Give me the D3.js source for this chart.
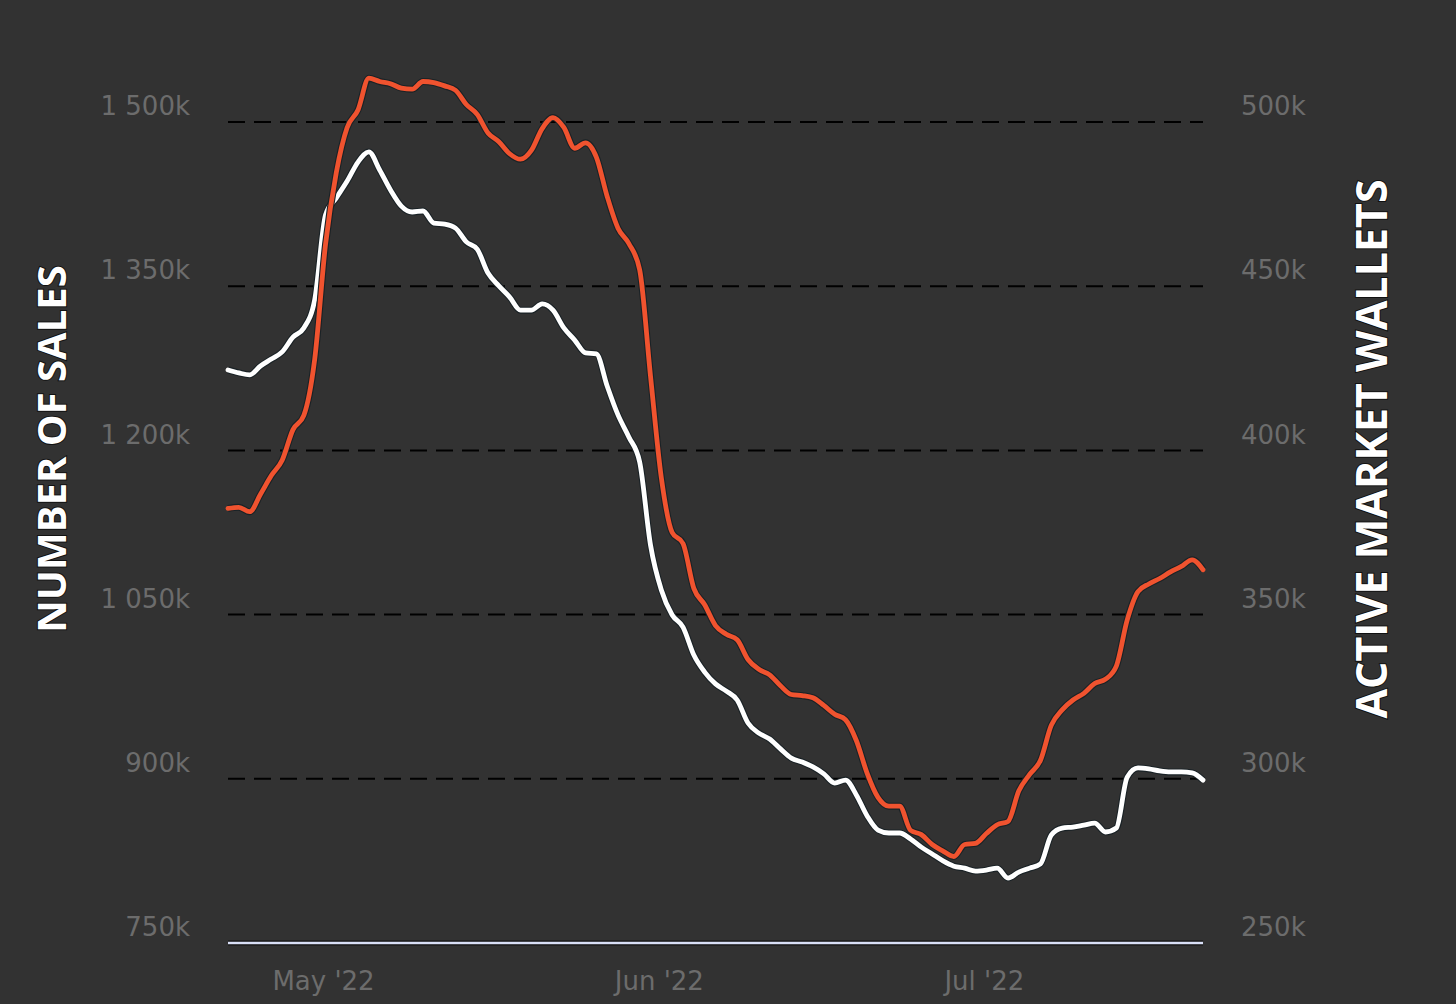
<!DOCTYPE html>
<html>
<head>
<meta charset="utf-8">
<script src="https://cdn.jsdelivr.net/npm/d3@7"></script>
<style>
  html, body { margin: 0; padding: 0; background: #323232; }
  svg { display: block; }
</style>
</head>
<body>
<svg id="chart"></svg>
<script>
// daily values, Apr 22 2022 -> Jul 21 2022 (thousands)
const startDate = new Date(2022, 3, 22);
const sales = [
  1147, 1148, 1144, 1160, 1177, 1191, 1219, 1232, 1283, 1388,
  1454, 1495, 1511, 1540, 1537, 1535, 1531, 1530, 1537, 1536,
  1533, 1529, 1516, 1507, 1490, 1482, 1471, 1466, 1474, 1494,
  1504, 1495, 1476, 1481, 1468, 1432, 1403, 1389, 1365, 1268,
  1175, 1125, 1115, 1074, 1059, 1040, 1032, 1027, 1009, 1000,
  995, 985, 977, 976, 974, 967, 959, 954, 935, 905,
  883, 875, 875, 853, 849, 840, 834, 829, 840, 841,
  850, 858, 861, 889, 904, 917, 949, 963, 972, 978,
  987, 991, 1003, 1045, 1071, 1078, 1083, 1089, 1094, 1100,
  1091
];
const wallets = [
  424.5, 423.6, 423.0, 425.7, 427.8, 430.0, 434.5, 437.3, 445.8, 471.7,
  476.9, 482.0, 487.8, 490.9, 485.4, 479.3, 474.4, 472.6, 472.9, 469.2,
  468.9, 467.7, 463.5, 461.3, 454.0, 450.1, 446.7, 442.7, 442.7, 444.6,
  442.7, 437.3, 433.6, 429.7, 429.4, 419.6, 410.8, 404.1, 396.5, 371.2,
  357.5, 349.9, 346.2, 337.7, 332.5, 328.9, 326.7, 324.0, 317.0, 313.9,
  312.1, 309.1, 306.3, 305.1, 303.6, 301.5, 298.7, 299.6, 295.1, 288.7,
  284.4, 283.5, 283.5, 281.7, 279.2, 277.1, 275.0, 273.4, 272.8, 271.9,
  272.2, 272.8, 269.8, 271.6, 272.8, 274.1, 282.9, 285.0, 285.3, 285.9,
  286.5, 283.8, 285.0, 300.5, 303.3, 303.0, 302.4, 302.1, 302.1, 301.8,
  299.6
];
const leftTicks = [750, 900, 1050, 1200, 1350, 1500];
const rightTicks = [250, 300, 350, 400, 450, 500];
const monthTicks = [new Date(2022, 4, 1), new Date(2022, 5, 1), new Date(2022, 6, 1)];
const monthLabels = ["May '22", "Jun '22", "Jul '22"];
const leftTitle = "NUMBER OF SALES";
const rightTitle = "ACTIVE MARKET WALLETS";

const width = 1456;
const height = 1004;
const plot = { left: 228, right: 1203, top: 122, bottom: 943 };

const dates = sales.map((d, i) => d3.timeDay.offset(startDate, i));

const svg = d3.select("#chart").attr("width", width).attr("height", height);
svg.append("rect").attr("width", width).attr("height", height).attr("fill", "#323232");

const x = d3.scaleTime()
  .domain([dates[0], dates[dates.length - 1]])
  .range([plot.left, plot.right]);
const yLeft = d3.scaleLinear().domain([750, 1500]).range([plot.bottom, plot.top]);
const yRight = d3.scaleLinear().domain([250, 500]).range([plot.bottom, plot.top]);

const fmt = (v) => {
  const s = String(v);
  return (s.length > 3 ? s.slice(0, s.length - 3) + " " + s.slice(-3) : s) + "k";
};

// grid
svg.append("g")
  .selectAll("line")
  .data(leftTicks.slice(1))
  .join("line")
  .attr("x1", plot.left)
  .attr("x2", plot.right)
  .attr("y1", (d) => yLeft(d))
  .attr("y2", (d) => yLeft(d))
  .attr("stroke", "#000")
  .attr("stroke-width", 2)
  .attr("stroke-dasharray", "17,9");

// left tick labels
svg.append("g")
  .selectAll("text")
  .data(leftTicks)
  .join("text")
  .attr("x", 190)
  .attr("y", (d) => yLeft(d) - 16)
  .attr("dy", "0.35em")
  .attr("text-anchor", "end")
  .attr("font-family", "DejaVu Sans, sans-serif")
  .attr("font-size", 26)
  .attr("fill", "#6c6c6c")
  .text(fmt);

// right tick labels
svg.append("g")
  .selectAll("text")
  .data(rightTicks)
  .join("text")
  .attr("x", 1241)
  .attr("y", (d) => yRight(d) - 16)
  .attr("dy", "0.35em")
  .attr("text-anchor", "start")
  .attr("font-family", "DejaVu Sans, sans-serif")
  .attr("font-size", 26)
  .attr("fill", "#6c6c6c")
  .text(fmt);

// x labels
svg.append("g")
  .selectAll("text")
  .data(monthTicks)
  .join("text")
  .attr("x", (d) => x(d) - 2)
  .attr("y", 990)
  .attr("text-anchor", "middle")
  .attr("font-family", "DejaVu Sans, sans-serif")
  .attr("font-size", 26)
  .attr("fill", "#6c6c6c")
  .text((d, i) => monthLabels[i]);

// x axis line
svg.append("line")
  .attr("x1", plot.left).attr("x2", plot.right)
  .attr("y1", plot.bottom).attr("y2", plot.bottom)
  .attr("stroke", "#111").attr("stroke-width", 5);
svg.append("line")
  .attr("x1", plot.left).attr("x2", plot.right)
  .attr("y1", plot.bottom).attr("y2", plot.bottom)
  .attr("stroke", "#d9e0f7").attr("stroke-width", 2.5);

// lines
const lineLeft = d3.line()
  .x((d, i) => x(dates[i]))
  .y((d) => yLeft(d))
  .curve(d3.curveMonotoneX);
const lineRight = d3.line()
  .x((d, i) => x(dates[i]))
  .y((d) => yRight(d))
  .curve(d3.curveMonotoneX);

const drawLine = (data, gen, color) => {
  svg.append("path")
    .attr("d", gen(data))
    .attr("fill", "none")
    .attr("stroke", "#1a2226")
    .attr("stroke-width", 7)
    .attr("stroke-linejoin", "round");
  svg.append("path")
    .attr("d", gen(data))
    .attr("fill", "none")
    .attr("stroke", color)
    .attr("stroke-width", 4.8)
    .attr("stroke-linejoin", "round")
    .attr("stroke-linecap", "round");
};
drawLine(wallets, lineRight, "#ffffff");
drawLine(sales, lineLeft, "#f0532f");

// axis titles
const titleCenterY = 449;
svg.append("text")
  .attr("transform", `translate(66,${titleCenterY}) rotate(-90)`)
  .attr("text-anchor", "middle")
  .attr("font-family", "Open Sans, sans-serif")
  .attr("font-weight", "bold")
  .attr("font-size", 40)
  .attr("fill", "#fff")
  .attr("stroke", "#111")
  .attr("stroke-width", 2)
  .attr("paint-order", "stroke")
  .text(leftTitle);

svg.append("text")
  .attr("transform", `translate(1387,${titleCenterY}) rotate(-90)`)
  .attr("text-anchor", "middle")
  .attr("font-family", "Open Sans, sans-serif")
  .attr("font-weight", "bold")
  .attr("font-size", 43)
  .attr("fill", "#fff")
  .attr("stroke", "#111")
  .attr("stroke-width", 2)
  .attr("paint-order", "stroke")
  .text(rightTitle);
</script>
</body>
</html>
